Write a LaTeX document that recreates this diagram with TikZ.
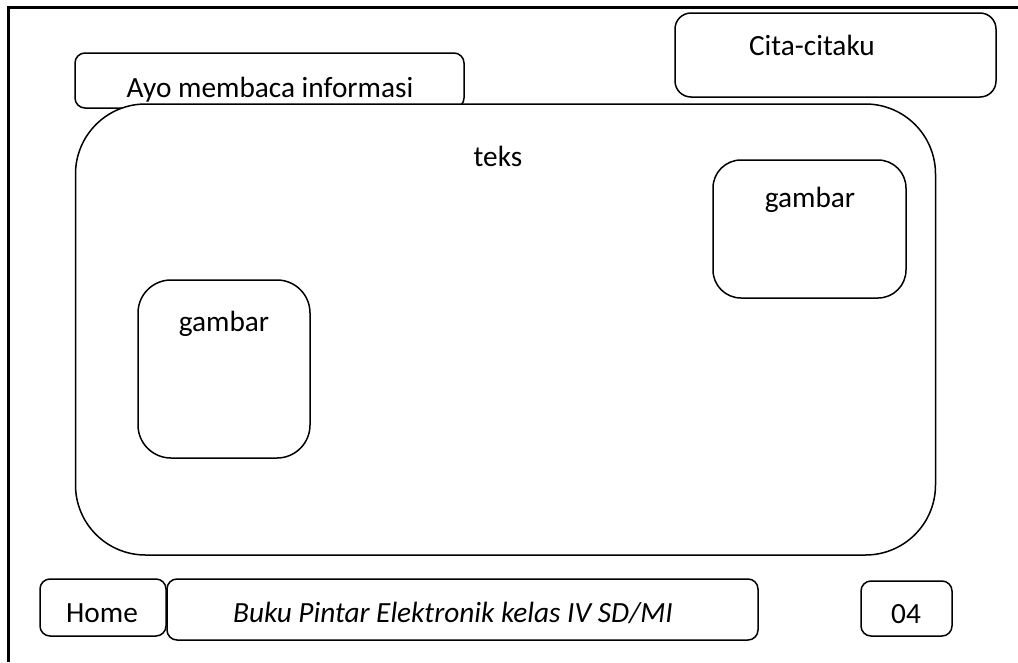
\documentclass[tikz,border=0pt]{standalone}
\usepackage{fontspec}
\setmainfont{Carlito}
\begin{document}
\begin{tikzpicture}[x=1pt,y=-1pt,
  panel/.style={draw=black,line width=1.5pt,fill=white,inner sep=0pt,outer sep=0pt},
  caption/.style={anchor=base,inner sep=0pt,outer sep=0pt,font=\fontsize{29.3}{35}\selectfont}]
\useasboundingbox (0,0) rectangle (1018,662);

% page frame (left and top edges)
\coordinate (ftop) at (1018,7.5);
\coordinate (fcorner) at (8.5,7.5);
\coordinate (fbot) at (8.5,662);
\draw[line width=2.2pt] (ftop) -- (fcorner) -- (fbot);

% title tab, partly covered by the content panel
\node[panel,minimum width=389pt,minimum height=55pt,rounded corners=10pt] (tab) at (269.5,80.5) {};
\node[caption] (tabtext) at (270,97.5) {Ayo membaca informasi};

% menu button
\node[panel,minimum width=321pt,minimum height=84pt,rounded corners=16pt] (cita) at (835.5,55) {};
\node[caption] (citatext) at (812,55) {Cita-citaku};

% content panel
\node[panel,minimum width=860pt,minimum height=451pt,rounded corners=70pt] (content) at (505.5,329.5) {};
\node[caption] (teks) at (498,166) {teks};

% picture slots
\node[panel,minimum width=193pt,minimum height=138pt,rounded corners=28pt] (picR) at (809.5,229) {};
\node[caption] (picRtext) at (810,207) {gambar};
\node[panel,minimum width=172pt,minimum height=178pt,rounded corners=33pt] (picL) at (224,369) {};
\node[caption] (picLtext) at (224,331) {gambar};

% footer bar
\node[panel,minimum width=126pt,minimum height=57pt,rounded corners=10pt] (home) at (103,607.5) {};
\node[caption] (hometext) at (102,622) {Home};
\node[panel,minimum width=591pt,minimum height=61pt,rounded corners=10pt] (buku) at (462.5,609.5) {};
\node[caption,font=\fontsize{29.3}{35}\selectfont\itshape] (bukutext) at (453,622) {Buku Pintar Elektronik kelas IV SD/MI};
\node[panel,minimum width=91pt,minimum height=55pt,rounded corners=10pt] (page) at (906.5,608.5) {};
\node[caption] (pagetext) at (906,623) {04};
\end{tikzpicture}
\end{document}
